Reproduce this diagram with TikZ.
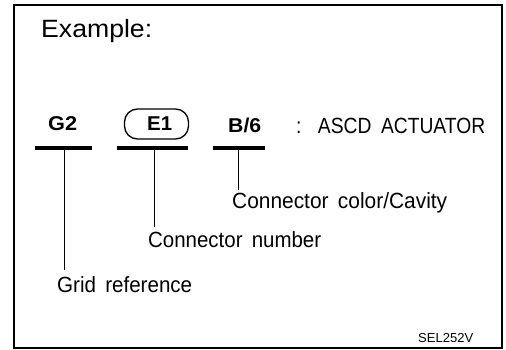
\documentclass[tikz,border=0pt]{standalone}
\usepackage{fontspec}
\setmainfont{Liberation Sans}
\usepackage{graphicx}
\newcommand\fitx[2]{\resizebox{#1}{\height}{#2}}
\begin{document}
\begin{tikzpicture}[x=1pt,y=-1pt,
  lbl/.style={anchor=base west,inner sep=0pt,font=\fontsize{22}{26}\selectfont},
  code/.style={anchor=base west,inner sep=0pt,font=\fontsize{20}{24}\selectfont\bfseries},
  barbox/.style={fill=black,draw=none,inner sep=0pt,minimum height=4.5pt},
  lead/.style={line width=1pt},
  frame/.style={line width=2pt}]
\useasboundingbox (0,0) rectangle (506,350);
\draw[frame] (14,5) rectangle (502,348);

\node[lbl,font=\fontsize{25}{29}\selectfont] (ex) at (41,38) {\fitx{111pt}{Example:}};

% codes
\node[code] (g2) at (48,131) {\fitx{29pt}{G2}};
\node[draw,line width=1.3pt,rounded corners=13pt,minimum width=64pt,minimum height=30pt,inner sep=0pt] (e1box) at (156.5,124) {};
\node[code] (e1) at (147,131) {\fitx{25pt}{E1}};
\node[code] (b6) at (228,133) {\fitx{33pt}{B/6}};
\node[lbl] (asc) at (296,134) {\fitx{189pt}{:\hspace{0.85em}ASCD\hspace{0.5em}ACTUATOR}};

% bars
\node[barbox,minimum width=57pt] (barG) at (63.5,148) {};
\node[barbox,minimum width=71pt] (barE) at (152.5,148) {};
\node[barbox,minimum width=52pt] (barB) at (239,148) {};

% leader ends
\coordinate (gEnd) at (64,270);
\coordinate (eEnd) at (154,227);
\coordinate (bEnd) at (238,190);
\draw[lead] (barG.center -| gEnd) -- (gEnd);
\draw[lead] (barE.center -| eEnd) -- (eEnd);
\draw[lead] (barB.center -| bEnd) -- (bEnd);

% labels
\node[lbl] (lcav) at (232,208) {\fitx{215pt}{Connector\hspace{0.45em}color/Cavity}};
\node[lbl] (lnum) at (148,247) {\fitx{173pt}{Connector\hspace{0.45em}number}};
\node[lbl] (lgrid) at (57,292) {\fitx{135pt}{Grid\hspace{0.45em}reference}};

\node[anchor=base west,inner sep=0pt,font=\fontsize{13}{15}\selectfont] (sel) at (418,342) {\fitx{55pt}{SEL252V}};
\end{tikzpicture}
\end{document}
